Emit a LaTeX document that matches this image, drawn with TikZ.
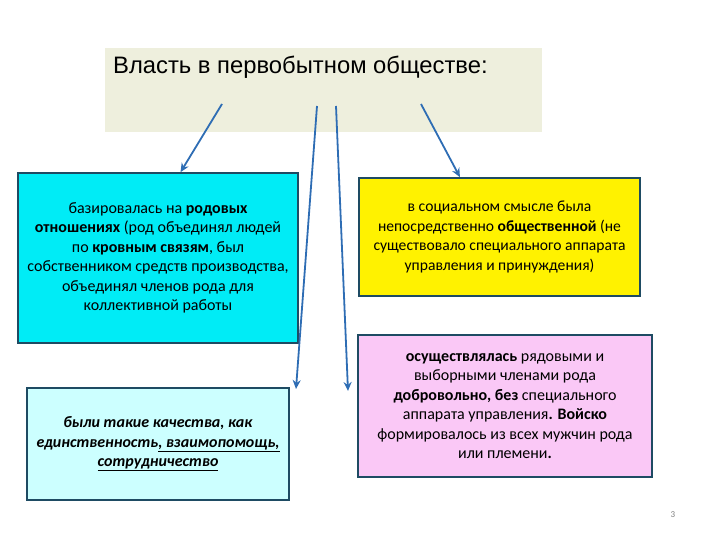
\documentclass[tikz,border=0pt]{standalone}
\usepackage{fontspec}
\setmainfont{Carlito}
\newfontfamily\titlefont{Liberation Sans}
\usetikzlibrary{arrows.meta,calc}
\definecolor{titlefill}{HTML}{EEEFDD}
\definecolor{boxline}{HTML}{1E4B63}
\definecolor{arrowblue}{HTML}{2E6DB4}
\definecolor{cyanfill}{HTML}{00ECF6}
\definecolor{palecyan}{HTML}{CCFFFF}
\definecolor{pinkfill}{HTML}{FAC8F6}
\begin{document}
\begin{tikzpicture} [x=1pt,y=-1pt,
    box/.style={draw=boxline, line width=1.6pt, align=center, inner sep=0pt,
      font=\fontsize{16}{19.5}\selectfont},
    link/.style={draw=arrowblue, line width=1.8pt, -{Stealth[length=9pt,width=8pt]}}]
    \useasboundingbox (0,0) rectangle (720,540);
    \path node (title) at (323.5,90) [fill=titlefill, minimum width=437pt, minimum height=84pt] {}
          node (titletext) at (113,67) [anchor=west, inner sep=0pt, font=\titlefont\fontsize{23.8}{26}\selectfont] {Власть в первобытном обществе:}
          node (kin) at (158,258) [box, fill=cyanfill, minimum width=280pt, minimum height=170pt]
            {базировалась на \textbf{родовых}\\ \textbf{отношениях} (род объединял людей\\ по \textbf{кровным связям},
             был\\ собственником средств производства,\\ объединял членов рода для\\ коллективной работы}
          node (social) at (499.5,237) [box, fill=yellow, minimum width=281pt, minimum height=118pt, font=\fontsize{15.6}{19.6}\selectfont]
            {в социальном смысле была\\ непосредственно \textbf{общественной} (не\\ существовало специального аппарата\\ управления и принуждения)}
          node (traits) at (158,444) [box, fill=palecyan, minimum width=262pt, minimum height=112pt]
            {\textbf{\itshape были такие качества, как}\\ \textbf{\itshape единственность\underline{, взаимопомощь,}}\\ \textbf{\itshape\underline{сотрудничество}}}
          node (rule) at (505,406) [box, fill=pinkfill, minimum width=294pt, minimum height=142pt]
            {\textbf{осуществлялась} рядовыми и\\ выборными членами рода\\ \textbf{добровольно, без} специального\\
             аппарата управления\textbf{. Войско}\\ формировалось из всех мужчин рода\\ или племени\textbf{.}}
          node (pagenum) at (673,515) [text=gray, font=\fontsize{9}{10}\selectfont] {3};
    \coordinate (fromA) at (222,104);
    \coordinate (fromB) at (317,106);
    \coordinate (fromC) at (336,106);
    \coordinate (fromD) at (421,104);
    \coordinate (toB) at (296,389);
    \coordinate (toC) at (348,391);
    \draw [link] (fromA) -- ($(kin.north west)!.58!(kin.north east)$);
    \draw [link] (fromD) -- ($(social.north west)!.36!(social.north east)$);
    \draw [link] (fromB) -- (toB);
    \draw [link] (fromC) -- (toC);
 \end{tikzpicture}
\end{document}
